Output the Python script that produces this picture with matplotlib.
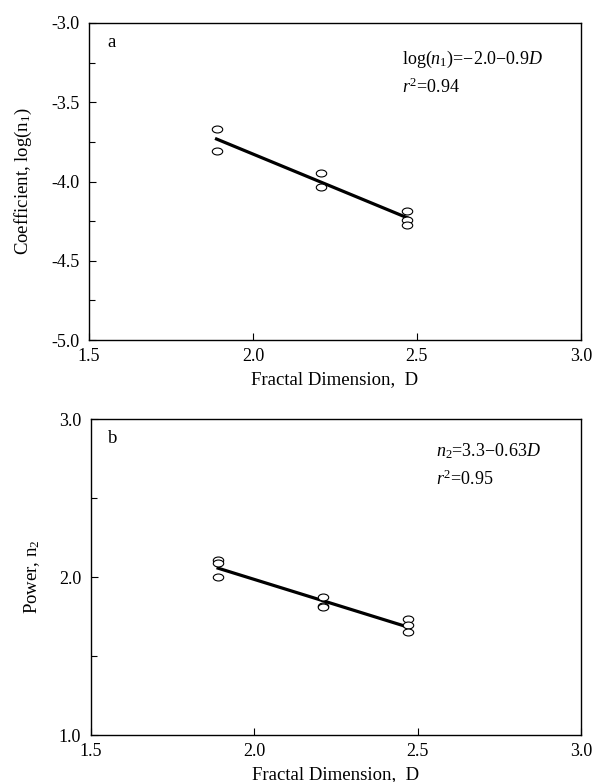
import numpy as np
import matplotlib
matplotlib.use('Agg')
import matplotlib.pyplot as plt
from matplotlib.path import Path
from matplotlib.transforms import Affine2D
from matplotlib.ticker import MultipleLocator

plt.rcParams['font.family'] = 'serif'
plt.rcParams['font.serif'] = ['Liberation Serif', 'DejaVu Serif']
plt.rcParams['mathtext.fontset'] = 'custom'
plt.rcParams['mathtext.rm'] = 'Liberation Serif'
plt.rcParams['mathtext.it'] = 'Liberation Serif:italic'
plt.rcParams['axes.unicode_minus'] = False

# panel a: log(n1) against fractal dimension
d_a = [1.889, 1.889, 2.209, 2.209, 2.470, 2.470, 2.470]
logn1 = [-3.671, -3.806, -3.944, -4.037, -4.184, -4.243, -4.274]

# panel b: n2 against fractal dimension
d_b = [1.889, 1.889, 1.889, 2.209, 2.209, 2.209, 2.470, 2.470, 2.470]
n2 = [2.108, 2.087, 1.998, 1.871, 1.818, 1.808, 1.734, 1.694, 1.652]

eq_a = 'log($n_1$)=\u22122.0\u22120.9$D$'
r2_a = '$r^2$=0.94'
eq_b = '$n_2$=3.3\u22120.63$D$'
r2_b = '$r^2$=0.95'

# open ellipse marker, wider than tall
ellipse = Path.unit_circle().transformed(Affine2D().scale(1.5, 1.0))


def panel(ax, x, y, ylim, ymajor, yminor, ylabel, letter, eq, r2, eq_x, eq_y):
    slope, icpt = np.polyfit(x, y, 1)
    xs = np.array([min(x), max(x)])
    ax.plot(xs, icpt + slope * xs, color='black', linewidth=2.3, zorder=2)
    ax.plot(x, y, linestyle='none', marker=ellipse, markersize=7.5,
            markerfacecolor='white', markeredgecolor='black',
            markeredgewidth=0.8, zorder=3)

    ax.set_xlim(1.5, 3.0)
    ax.set_ylim(*ylim)
    ax.xaxis.set_major_locator(MultipleLocator(0.5))
    ax.yaxis.set_major_locator(MultipleLocator(ymajor))
    ax.yaxis.set_minor_locator(MultipleLocator(yminor))
    ax.xaxis.set_major_formatter('{x:.1f}')
    ax.yaxis.set_major_formatter('{x:.1f}')
    ax.tick_params(which='both', direction='in', labelsize=13, width=0.8)
    ax.tick_params(which='major', length=5)
    ax.tick_params(which='minor', length=4)
    ax.tick_params(axis='x', pad=6)
    ax.tick_params(axis='y', pad=7)
    for s in ax.spines.values():
        s.set_linewidth(1.0)

    ax.set_xlabel('Fractal Dimension,  D', fontsize=13.5, labelpad=4)
    ax.set_ylabel(ylabel, fontsize=13.5, labelpad=12)

    ax.text(0.045, 0.937, letter, transform=ax.transAxes, fontsize=13.5,
            ha='center', va='center')
    ax.text(eq_x, eq_y, eq, transform=ax.transAxes, fontsize=13,
            ha='left', va='center')
    ax.text(eq_x, eq_y - 0.088, r2, transform=ax.transAxes, fontsize=13,
            ha='left', va='center')


fig = plt.figure(figsize=(5.94, 7.82), dpi=100)
ax1 = fig.add_axes([0.1498, 0.5652, 0.828, 0.4054])
ax2 = fig.add_axes([0.1532, 0.0601, 0.825, 0.4040])

panel(ax1, d_a, logn1, (-5.0, -3.0), 0.5, 0.25,
      r'Coefficient, log(n$_1$)', 'a', eq_a, r2_a, 0.636, 0.884)
panel(ax2, d_b, n2, (1.0, 3.0), 1.0, 0.5,
      r'Power, n$_2$', 'b', eq_b, r2_b, 0.704, 0.898)

fig.savefig('out.png', dpi=100)
